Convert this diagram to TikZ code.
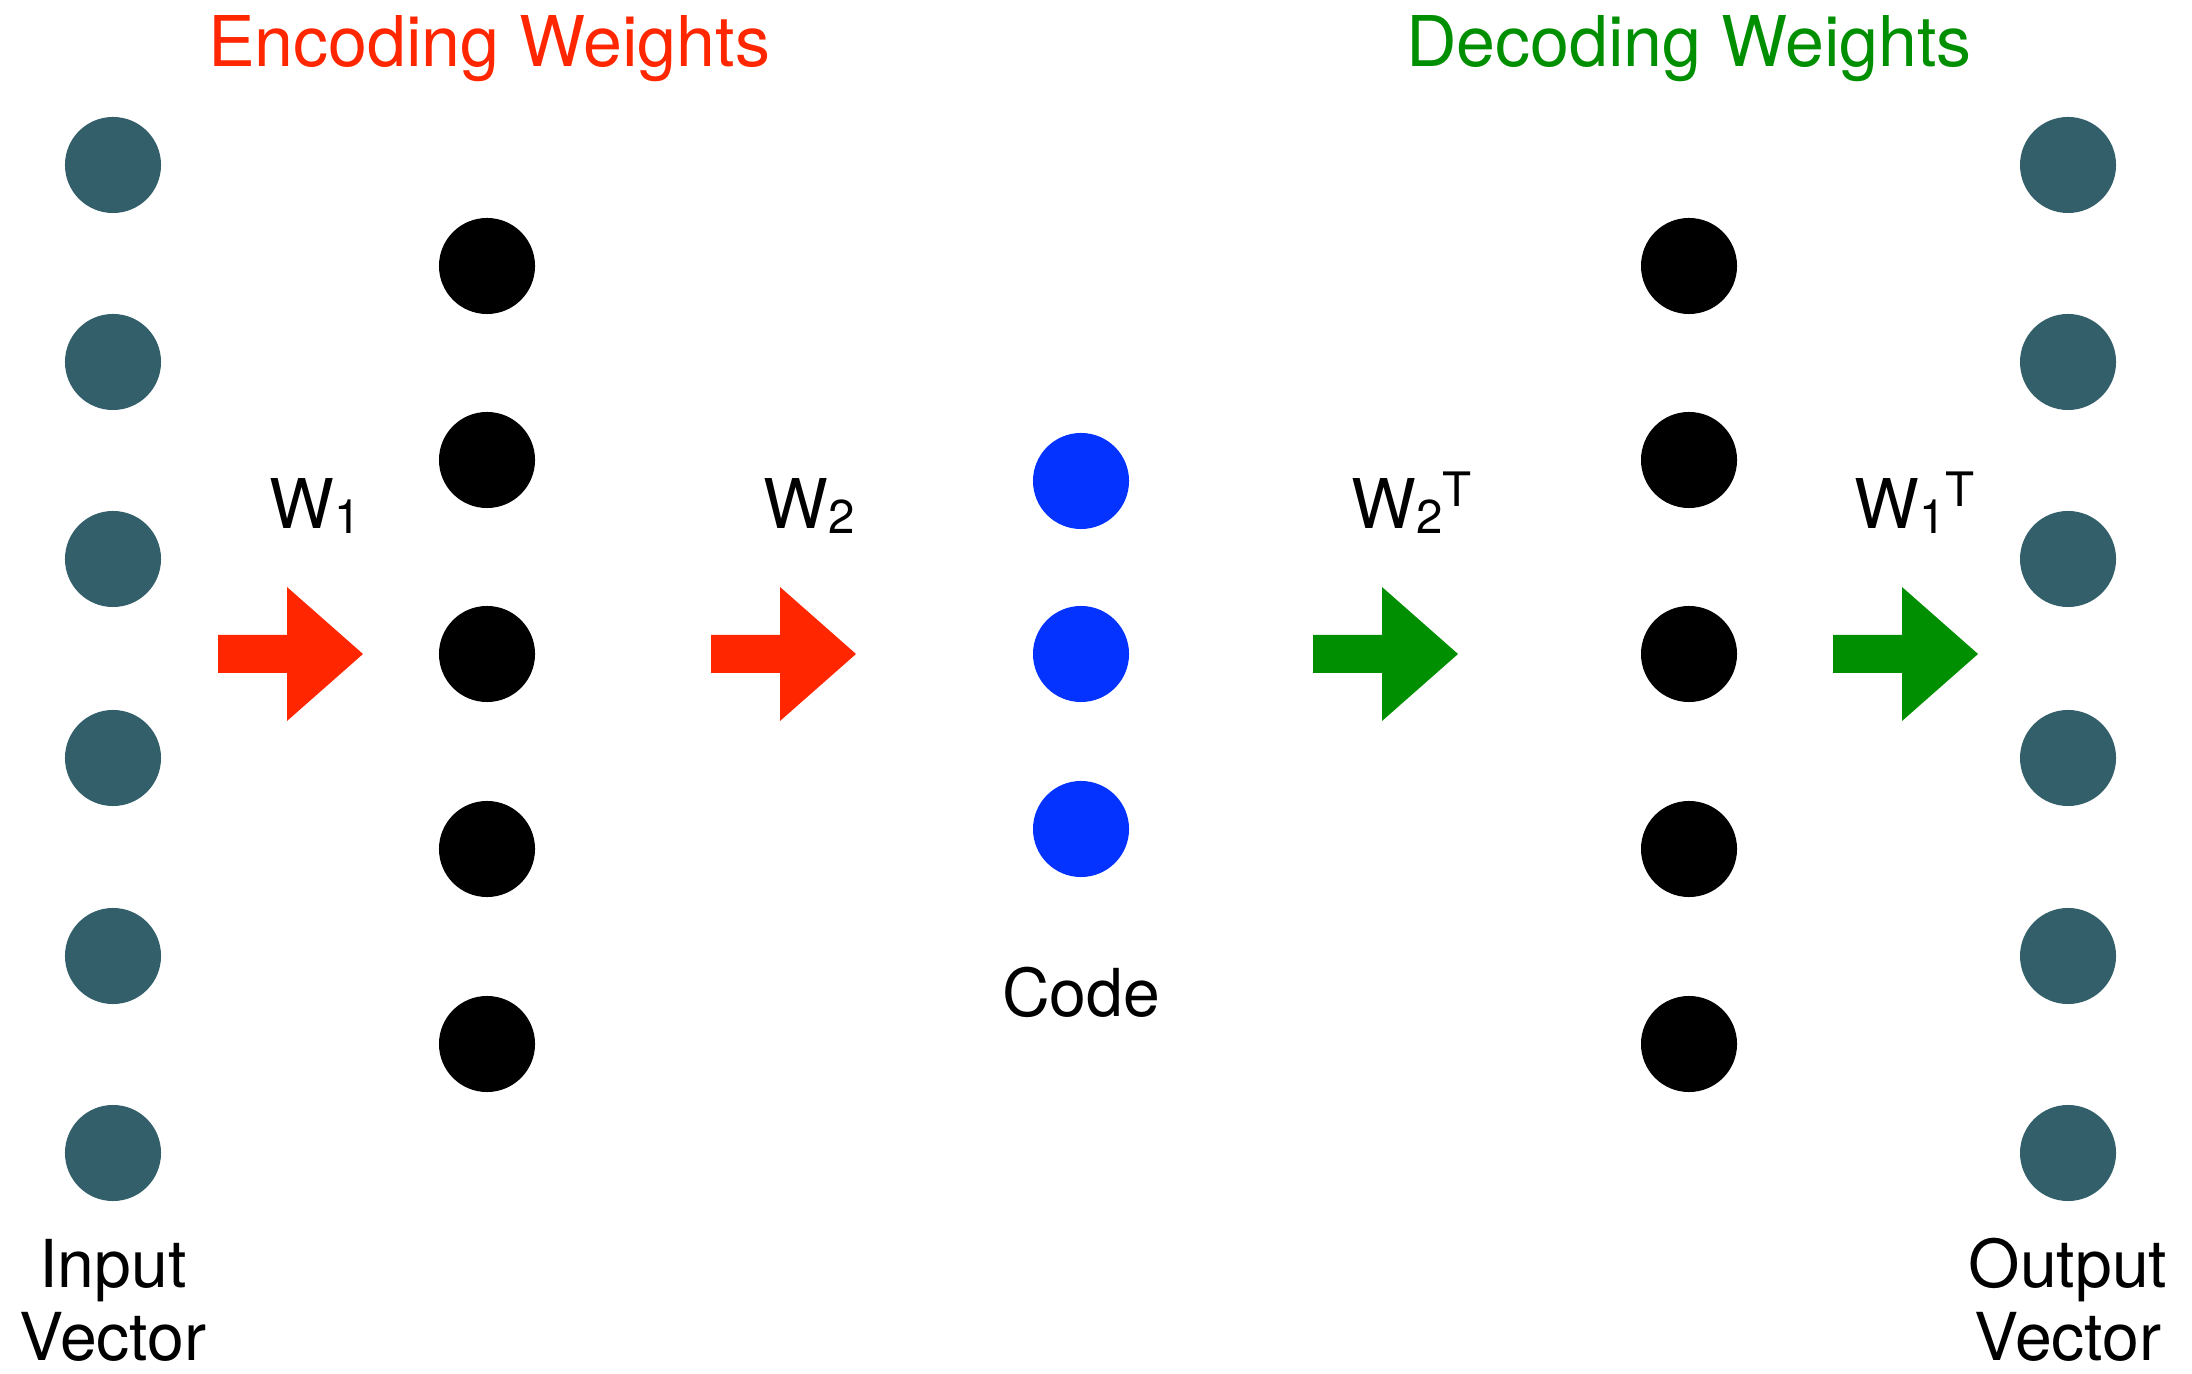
\documentclass[tikz,border=0pt]{standalone}
\usepackage{fontspec}
\setmainfont{TeX Gyre Heros}
\definecolor{slate}{RGB}{51,95,107}
\definecolor{encred}{RGB}{255,38,0}
\definecolor{decgreen}{RGB}{0,143,0}
\definecolor{codeblue}{RGB}{4,51,255}
\newcommand\wsub[1]{\raisebox{-1.4pt}{\fontsize{13.5}{14}\selectfont #1}}
\newcommand\wsup[1]{\raisebox{6.5pt}{\fontsize{13.5}{14}\selectfont #1}}
\tikzset{
  unit/.style={circle,inner sep=0pt,minimum size=0.96cm},
  inunit/.style={unit,fill=slate},
  hidunit/.style={unit,fill=black},
  codeunit/.style={unit,fill=codeblue},
  lbl/.style={inner sep=0pt,font=\fontsize{19.5}{23}\selectfont},
  layerlbl/.style={inner sep=0pt,font=\fontsize{18.8}{22}\selectfont},
  titlelbl/.style={inner sep=0pt,font=\fontsize{19.9}{23}\selectfont},
  fatarrow/.pic={\fill[pic actions] (0,-19) -- (69,-19) -- (69,-67) -- (145,0) -- (69,67) -- (69,19) -- (0,19) -- cycle;}
}
\begin{document}
\begin{tikzpicture}[x=0.01cm,y=-0.01cm]
\useasboundingbox[fill=white] (0,0) rectangle (2192,1374);
% input and output layers
\foreach \y [count=\i] in {165,362,559,758,956,1153}{
  \node[inunit] (in\i) at (113,\y) {};
  \node[inunit] (out\i) at (2068,\y) {};
}
% hidden layers
\foreach \y [count=\i] in {266,460,654,849,1044}{
  \node[hidunit] (enc\i) at (487,\y) {};
  \node[hidunit] (dec\i) at (1689,\y) {};
}
% code layer
\foreach \y [count=\i] in {481,654,829}{
  \node[codeunit] (code\i) at (1081,\y) {};
}
% arrows
\pic[fill=encred] (a1) at (218,654) {fatarrow};
\pic[fill=encred] (a2) at (711,654) {fatarrow};
\pic[fill=decgreen] (a3) at (1313,654) {fatarrow};
\pic[fill=decgreen] (a4) at (1833,654) {fatarrow};
% titles
\node[titlelbl,text=encred,anchor=base] (enctitle) at (489,67) {Encoding Weights};
\node[titlelbl,text=decgreen,anchor=base] (dectitle) at (1689,67) {Decoding Weights};
% weight labels
\node[lbl,anchor=base west] (w1) at (269,529) {W\wsub{1}};
\node[lbl,anchor=base west] (w2) at (763,529) {W\wsub{2}};
\node[lbl,anchor=base west] (w2t) at (1351,529) {W\wsub{2}\wsup{T}};
\node[lbl,anchor=base west] (w1t) at (1854,529) {W\wsub{1}\wsup{T}};
% layer labels
\node[layerlbl,anchor=base] (codelbl) at (1081,1016) {Code};
\node[layerlbl,anchor=base] (inlbl1) at (113,1287) {Input};
\node[layerlbl,anchor=base] (inlbl2) at (113,1360) {Vector};
\node[layerlbl,anchor=base] (outlbl1) at (2068,1287) {Output};
\node[layerlbl,anchor=base] (outlbl2) at (2068,1360) {Vector};
\end{tikzpicture}
\end{document}
